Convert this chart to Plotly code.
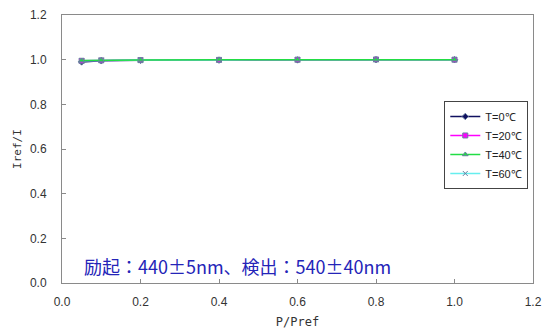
import plotly.graph_objects as go

# Relative excitation power and the normalised intensity ratio at each temperature
power_ratio = [0.05, 0.1, 0.2, 0.4, 0.6, 0.8, 1.0]
iref_t0 = [0.990, 0.995, 0.997, 0.998, 0.999, 1.000, 1.000]
iref_t20 = [0.995, 0.997, 0.998, 0.999, 1.000, 1.001, 1.000]
iref_t40 = [0.996, 0.998, 0.999, 1.000, 1.000, 1.000, 1.000]
iref_t60 = [0.995, 0.997, 0.998, 0.999, 0.999, 1.000, 1.000]

series_names = ["T=0\u2103", "T=20\u2103", "T=40\u2103", "T=60\u2103"]
x_ticks = [0.0, 0.2, 0.4, 0.6, 0.8, 1.0, 1.2]
y_ticks = [0.0, 0.2, 0.4, 0.6, 0.8, 1.0, 1.2]

styles = [
    dict(color="#101060", symbol="diamond"),
    dict(color="#FF00FF", symbol="square"),
    dict(color="#22DD44", symbol="triangle-up"),
    dict(color="#66EEEE", symbol="x-thin"),
]
all_series = [iref_t0, iref_t20, iref_t40, iref_t60]
order = [0, 1, 3, 2]  # green line drawn on top, legend kept in temperature order

fig = go.Figure()
for idx in order:
    st = styles[idx]
    fig.add_trace(go.Scatter(
        x=power_ratio, y=all_series[idx], mode="lines+markers",
        name=series_names[idx], legendrank=idx + 1,
        line=dict(color=st["color"], width=1.5),
        marker=dict(color=st["color"], symbol=st["symbol"], size=5,
                    line=dict(color="#6A7FA0", width=1)),
    ))

axis_common = dict(
    showgrid=False, zeroline=False, showline=True, mirror=True,
    linecolor="#8a8a8a", linewidth=1, ticks="inside", ticklen=4,
    tickcolor="#8a8a8a", tickformat=".1f",
    tickfont=dict(family="Liberation Sans, Arial", size=12, color="#333333"),
)
title_font = dict(family="DejaVu Sans Mono", size=12, color="#333333")

fig.update_layout(
    width=550, height=335,
    margin=dict(l=62, r=8, t=13, b=52),
    paper_bgcolor="white", plot_bgcolor="white",
    xaxis=dict(range=[0, 1.2], tickvals=x_ticks, ticklabelstandoff=8,
               title=dict(text="P/Pref", standoff=9, font=title_font),
               **axis_common),
    yaxis=dict(range=[0, 1.2], tickvals=y_ticks, ticklabelstandoff=12,
               title=dict(text="Iref/I", standoff=6,
                          font=dict(family="DejaVu Sans Mono", size=11, color="#333333")),
               **axis_common),
    legend=dict(x=0.99, y=0.515, xanchor="right", yanchor="middle",
                bgcolor="white", bordercolor="#444444", borderwidth=1,
                font=dict(family="Liberation Sans, Arial", size=11, color="#222222"),
                itemwidth=30, tracegroupgap=0),
    showlegend=True,
    annotations=[dict(
        x=0.05, y=0.075, xref="x", yref="y", xanchor="left", yanchor="middle",
        text="励起：440±5nm、検出：540±40nm", showarrow=False,
        font=dict(family="Noto Sans CJK JP", size=18, color="#2424B8"),
    )],
)

fig.write_html("out.html")
